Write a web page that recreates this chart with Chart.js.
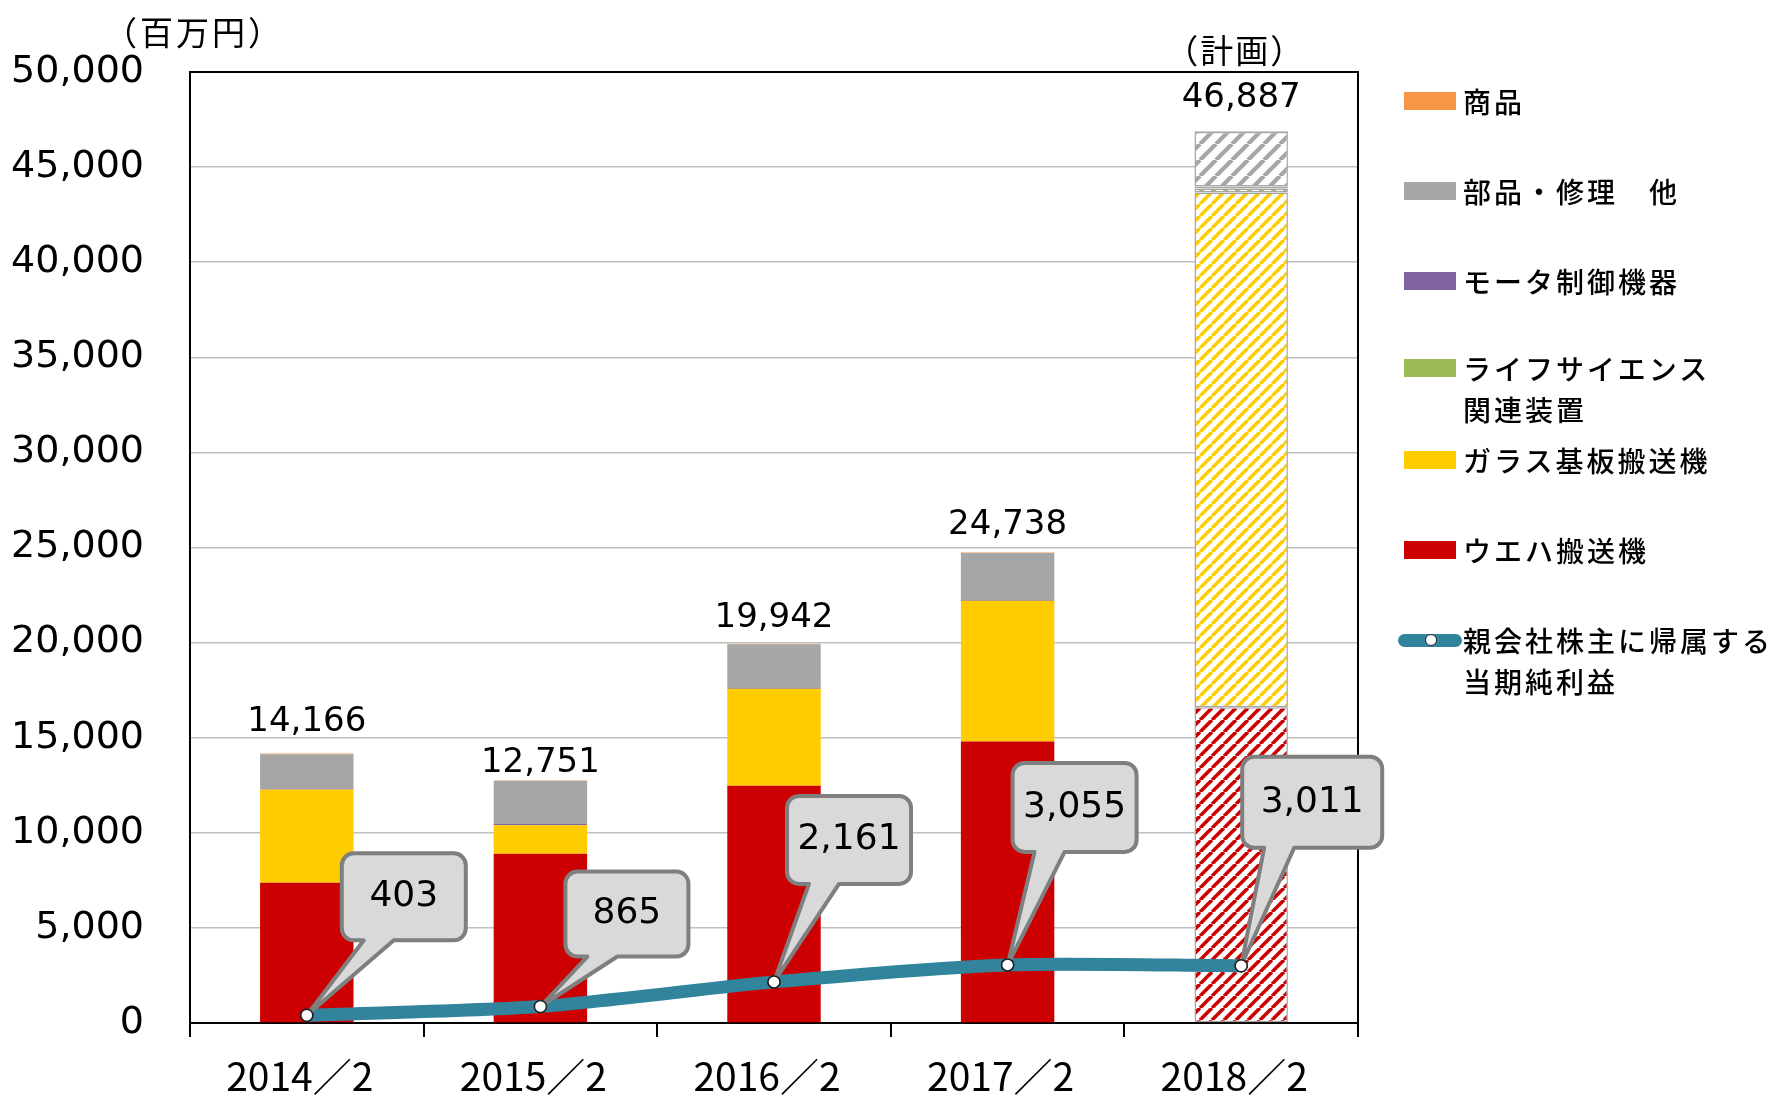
<!DOCTYPE html>
<html><head><meta charset="utf-8">
<script src="https://cdn.jsdelivr.net/npm/chart.js@4"></script>
<style>
html,body{margin:0;padding:0;background:#fff;}
#wrap{position:relative;width:1777px;height:1097px;overflow:hidden;}
canvas{position:absolute;left:0;top:0;}
.li{position:absolute;left:1463px;font-family:"Noto Sans CJK JP";font-weight:500;font-size:28px;line-height:41px;letter-spacing:3px;color:#000;white-space:pre;}
.sw{position:absolute;left:1404px;width:52px;height:18px;}
.lsw{position:absolute;left:1398px;width:64px;height:13px;border-radius:7px;background:#31849B;}
.lsw i{position:absolute;left:27px;top:0.5px;width:12px;height:12px;border-radius:50%;background:#fff;box-sizing:border-box;border:1px solid #222;}
</style></head><body>
<div id="wrap"><canvas id="c" width="1777" height="1097"></canvas><div id="legend"></div></div>
<script>
// ---- data ----
const categories = ['2014／2', '2015／2', '2016／2', '2017／2', '2018／2'];
const wafer       = [7380, 8905, 12480, 14800, 16600];   // ウエハ搬送機
const glass       = [4890, 1494, 5090, 7400, 27060];     // ガラス基板搬送機
const lifeScience = [0, 0, 0, 0, 220];                   // ライフサイエンス関連装置
const motor       = [60, 60, 50, 50, 100];               // モータ制御機器
const parts       = [1806, 2262, 2292, 2458, 2870];      // 部品・修理 他
const goods       = [30, 30, 30, 30, 37];                // 商品
const totals      = [14166, 12751, 19942, 24738, 46887];
const netIncome   = [403, 865, 2161, 3055, 3011];        // 親会社株主に帰属する当期純利益
const yTickLabels = ['0','5,000','10,000','15,000','20,000','25,000','30,000','35,000','40,000','45,000','50,000'];
const totalLabels = ['14,166','12,751','19,942','24,738','46,887'];
const incomeLabels = ['403','865','2,161','3,055','3,011'];
const names = {
  goods:'商品', parts:'部品・修理　他', motor:'モータ制御機器', life:'ライフサイエンス\n関連装置',
  glass:'ガラス基板搬送機', wafer:'ウエハ搬送機', income:'親会社株主に帰属する\n当期純利益'
};

// ---- layout / style (not data) ----
const colors = {wafer:'#CC0000', glass:'#FFCC00', life:'#9BBB59', motor:'#8064A2', parts:'#A6A6A6', goods:'#F79646', line:'#31849B'};
const totalOffsets = [31, 17, 26, 27, 33];
const callouts = [
  {dx:35, dy:-162, w:124, h:87},
  {dx:25, dy:-135, w:123, h:85},
  {dx:13, dy:-186, w:124, h:88},
  {dx:5,  dy:-202, w:124, h:89},
  {dx:1,  dy:-209, w:140, h:91}
];
const planIndex = 4;

function makePattern(color, period, thick){
  const c = document.createElement('canvas'); c.width = c.height = period;
  const g = c.getContext('2d');
  g.fillStyle = '#fff'; g.fillRect(0,0,period,period);
  g.strokeStyle = color; g.lineWidth = thick;
  for (const k of [-1,0,1]) { g.beginPath(); g.moveTo(k*period, period); g.lineTo(k*period+period, 0); g.stroke(); }
  return document.getElementById('c').getContext('2d').createPattern(c, 'repeat');
}
function fills(col, period, thick){
  return categories.map((_,i)=> i===planIndex ? makePattern(col, period, thick) : col);
}
const bw = categories.map((_,i)=> i===planIndex ? 1.5 : 0);

function barDs(label, data, col, period, thick){
  return {type:'bar', label, data, backgroundColor: fills(col, period, thick), borderColor:'#A6A6A6',
    borderWidth: bw, borderSkipped:false, barPercentage:0.4, categoryPercentage:1.0, order:1, stack:'s'};
}

const datasets = [
  barDs(names.wafer, wafer, colors.wafer, 12, 3.6),
  barDs(names.glass, glass, colors.glass, 12, 3.6),
  barDs(names.life, lifeScience, colors.life, 12, 3.6),
  barDs(names.motor, motor, colors.motor, 12, 3.6),
  barDs(names.parts, parts, colors.parts, 16, 4.2),
  barDs(names.goods, goods, colors.goods, 12, 3.6),
  {type:'line', label:names.income, data:netIncome, borderColor:colors.line, borderWidth:13,
   borderCapStyle:'round', borderJoinStyle:'round', tension:0.25,
   pointRadius:6, pointBackgroundColor:'#fff', pointBorderColor:'#222', pointBorderWidth:1.5,
   order:0, stack:'ni'}
];

function roundedCallout(ctx, L, T, W, H, r, px, py){
  const R = L+W, B = T+H;
  const b1 = L+22, b2 = L+52;
  ctx.beginPath();
  ctx.moveTo(L+r, T);
  ctx.lineTo(R-r, T); ctx.arcTo(R, T, R, T+r, r);
  ctx.lineTo(R, B-r); ctx.arcTo(R, B, R-r, B, r);
  ctx.lineTo(b2, B); ctx.lineTo(px, py); ctx.lineTo(b1, B);
  ctx.lineTo(L+r, B); ctx.arcTo(L, B, L, B-r, r);
  ctx.lineTo(L, T+r); ctx.arcTo(L, T, L+r, T, r);
  ctx.closePath();
}

const decor = {
  id:'decor',
  afterDatasetsDraw(chart){
    const ctx = chart.ctx, a = chart.chartArea;
    ctx.save();
    // frame top/right
    ctx.strokeStyle = '#000'; ctx.lineWidth = 2;
    ctx.beginPath(); ctx.moveTo(a.left, a.top); ctx.lineTo(a.right, a.top); ctx.lineTo(a.right, a.bottom); ctx.stroke();
    // totals
    const topMeta = chart.getDatasetMeta(5);
    ctx.fillStyle = '#000'; ctx.textAlign = 'center'; ctx.textBaseline = 'middle';
    ctx.font = '34px "DejaVu Sans"';
    topMeta.data.forEach((bar, i) => { ctx.fillText(totalLabels[i], bar.x, bar.y - totalOffsets[i]); });
    // callouts
    const lm = chart.getDatasetMeta(6);
    lm.data.forEach((p, i) => {
      const c = callouts[i];
      const L = p.x + c.dx, T = p.y + c.dy;
      roundedCallout(ctx, L, T, c.w, c.h, 12, p.x, p.y);
      ctx.fillStyle = '#D9D9D9'; ctx.fill();
      ctx.strokeStyle = '#7F7F7F'; ctx.lineWidth = 4; ctx.lineJoin = 'round'; ctx.stroke();
      ctx.fillStyle = '#000'; ctx.font = '36px "DejaVu Sans"';
      ctx.fillText(incomeLabels[i], L + c.w/2, T + c.h/2);
    });
    ctx.save();
    lm.data.forEach(p => p.draw(ctx, a));
    ctx.restore();
    // unit + plan
    ctx.fillStyle = '#000'; ctx.textAlign = 'center'; ctx.textBaseline = 'middle';
    ctx.font = '33px "Noto Sans CJK JP"';
    ctx.letterSpacing = '3px';
    ctx.fillText('（百万円）', 194, 32);
    ctx.letterSpacing = '2px';
    ctx.fillText('（計画）', topMeta.data[planIndex].x - 6, 50);
    ctx.letterSpacing = '0px';
    ctx.restore();
  }
};

new Chart(document.getElementById('c'), {
  data:{labels:categories, datasets},
  options:{
    responsive:false, animation:false, devicePixelRatio:1,
    layout:{padding:{top:72, right:419, left:0, bottom:0}},
    plugins:{legend:{display:false}, tooltip:{enabled:false}},
    scales:{
      x:{stacked:true,
         grid:{offset:true, drawOnChartArea:false, drawTicks:true, tickLength:14, color:'#000', lineWidth:2},
         border:{display:true, color:'#000', width:2},
         ticks:{font:{family:'"Noto Sans CJK JP"', size:39}, color:'#000', padding:16, maxRotation:0, labelOffset:-7},
         afterFit(s){ s.height = 74; }},
      y:{stacked:true, min:0, max:50000,
         ticks:{stepSize:5000, callback:(v,i)=>yTickLabels[i], font:{family:'"DejaVu Sans"', size:38}, color:'#000', padding:46},
         grid:{drawTicks:false, lineWidth:1.5, color:(c)=> (c.tick && (c.tick.value===0 || c.tick.value===50000)) ? 'rgba(0,0,0,0)' : '#C0C0C0'},
         border:{color:'#000', width:2},
         afterFit(s){ s.width = 190; }}
    }
  },
  plugins:[decor]
});

// ---- HTML legend ----
const legendItems = [
  {name:names.goods, color:colors.goods, y:101},
  {name:names.parts, color:colors.parts, y:191},
  {name:names.motor, color:colors.motor, y:281},
  {name:names.life, color:colors.life, y:368},
  {name:names.glass, color:colors.glass, y:460},
  {name:names.wafer, color:colors.wafer, y:550},
  {name:names.income, color:colors.line, y:640, line:true}
];
const lg = document.getElementById('legend');
legendItems.forEach(it => {
  const t = document.createElement('div'); t.className = 'li'; t.textContent = it.name;
  t.style.top = (it.y - 20.5) + 'px'; lg.appendChild(t);
  const s = document.createElement('div');
  if (it.line) { s.className = 'lsw'; s.style.top = (it.y - 6.5) + 'px'; s.appendChild(document.createElement('i')); }
  else { s.className = 'sw'; s.style.background = it.color; s.style.top = (it.y - 9) + 'px'; }
  lg.appendChild(s);
});
</script>
</body></html>
